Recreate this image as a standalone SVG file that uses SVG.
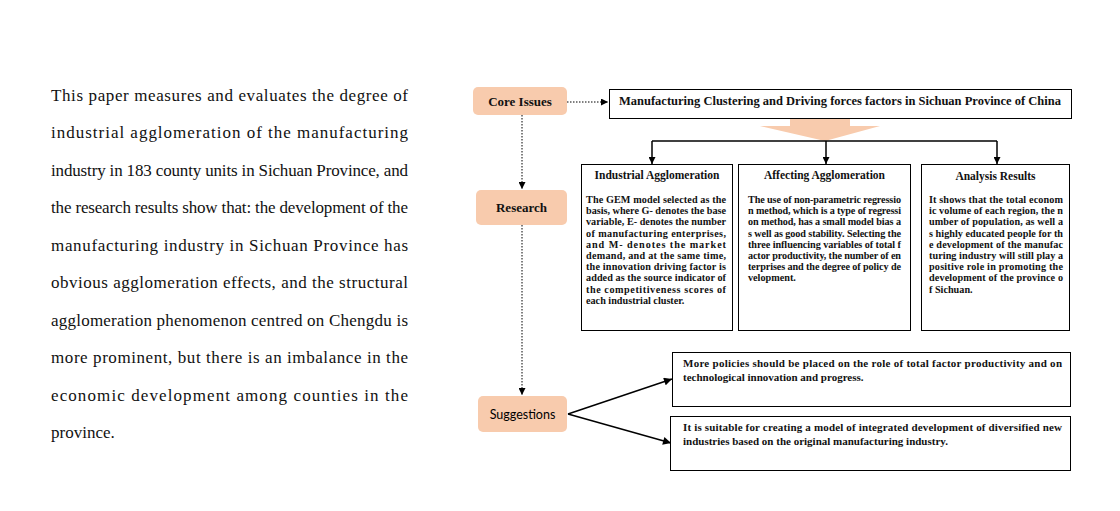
<svg xmlns="http://www.w3.org/2000/svg" width="1120" height="511" viewBox="0 0 1120 511">
<style>
.para{font-family:"Liberation Serif","Times New Roman",serif;font-size:17px;fill:#111}
.peach{fill:#f8cbad;stroke:none}
.lbl{font-family:"Liberation Serif","Times New Roman",serif;font-size:13px;font-weight:bold;fill:#111;text-anchor:middle}
.sug{font-family:Lato,"Liberation Sans",sans-serif;font-size:12.5px;fill:#000;text-anchor:middle}
.box{fill:#fff;stroke:#000;stroke-width:1}
.ttl{font-family:"Liberation Serif","Times New Roman",serif;font-size:11.5px;font-weight:bold;fill:#111}
.bt{font-family:"Liberation Serif","Times New Roman",serif;font-size:10.2px;font-weight:bold;fill:#111}
.bh{font-family:"Liberation Serif","Times New Roman",serif;font-size:11.5px;font-weight:bold;fill:#111;text-anchor:middle}
.st{font-family:"Liberation Serif","Times New Roman",serif;font-size:11px;font-weight:bold;fill:#111}
.dot{fill:none;stroke:#000;stroke-width:1;stroke-dasharray:1.5 1.5}
.sol{fill:none;stroke:#000;stroke-width:1.5}
</style>
<defs>
<marker id="ah" viewBox="0 0 10 10" refX="10" refY="5" markerWidth="7" markerHeight="7" markerUnits="userSpaceOnUse" orient="auto"><path d="M0,0 L10,5 L0,10 z" fill="#000"/></marker>
<marker id="ahs" viewBox="0 0 10 10" refX="10" refY="5" markerWidth="9" markerHeight="8" markerUnits="userSpaceOnUse" orient="auto"><path d="M0,0 L10,5 L0,10 z" fill="#000"/></marker>
</defs>
<rect width="1120" height="511" fill="#fff"/>

<g id="paragraph" class="para">
<text x="51" y="100.5" textLength="357" lengthAdjust="spacing">This paper measures and evaluates the degree of</text>
<text x="51" y="138" textLength="357" lengthAdjust="spacing">industrial agglomeration of the manufacturing</text>
<text x="51" y="175.5" textLength="357" lengthAdjust="spacing">industry in 183 county units in Sichuan Province, and</text>
<text x="51" y="213" textLength="357" lengthAdjust="spacing">the research results show that: the development of the</text>
<text x="51" y="250.5" textLength="357" lengthAdjust="spacing">manufacturing industry in Sichuan Province has</text>
<text x="51" y="288" textLength="357" lengthAdjust="spacing">obvious agglomeration effects, and the structural</text>
<text x="51" y="325.5" textLength="357" lengthAdjust="spacing">agglomeration phenomenon centred on Chengdu is</text>
<text x="51" y="363" textLength="357" lengthAdjust="spacing">more prominent, but there is an imbalance in the</text>
<text x="51" y="400.5" textLength="357" lengthAdjust="spacing">economic development among counties in the</text>
<text x="51" y="438">province.</text>
</g>

<g id="connectors">
<path class="dot" d="M567,102 L608,102" marker-end="url(#ah)"/>
<path class="dot" d="M522,115 L522,189" marker-end="url(#ah)"/>
<path class="dot" d="M522,225 L522,395" marker-end="url(#ah)"/>
<path class="peach" d="M790,118 L850,118 L850,126 L880,126 L825,141 L760,126 L790,126 z"/>
<path class="sol" d="M652,141 L997,141"/>
<path class="sol" d="M652,141 L652,164" marker-end="url(#ah)"/>
<path class="sol" d="M826,141 L826,164" marker-end="url(#ah)"/>
<path class="sol" d="M997,141 L997,164" marker-end="url(#ah)"/>
<path class="sol" d="M568,414 L672,379" marker-end="url(#ahs)"/>
<path class="sol" d="M568,414 L671,443" marker-end="url(#ahs)"/>
</g>

<g id="core-issues">
<rect class="peach" x="473" y="87" width="94" height="28" rx="5"/>
<text class="lbl" x="520" y="105.5">Core Issues</text>
</g>
<g id="research">
<rect class="peach" x="476" y="190" width="91" height="35" rx="5"/>
<text class="lbl" x="521.5" y="212">Research</text>
</g>
<g id="suggestions">
<rect class="peach" x="478" y="396" width="89" height="36" rx="5"/>
<text class="sug" x="522.5" y="418.5">Suggestions</text>
</g>

<g id="title">
<rect class="box" x="609.5" y="89.5" width="462" height="29"/>
<text class="ttl" x="619" y="105" textLength="442" lengthAdjust="spacingAndGlyphs">Manufacturing Clustering and Driving forces factors in Sichuan Province of China</text>
</g>

<g id="industrial-agglomeration">
<rect class="box" x="581.5" y="164.5" width="151" height="166"/>
<text class="bh" x="657" y="179">Industrial Agglomeration</text>
<g class="bt">
<text x="586" y="203" textLength="140" lengthAdjust="spacing">The GEM model selected as the</text>
<text x="586" y="214.2" textLength="140" lengthAdjust="spacing">basis, where G- denotes the base</text>
<text x="586" y="225.4" textLength="140" lengthAdjust="spacing">variable, E- denotes the number</text>
<text x="586" y="236.6" textLength="140" lengthAdjust="spacing">of manufacturing enterprises,</text>
<text x="586" y="247.8" textLength="140" lengthAdjust="spacing">and M- denotes the market</text>
<text x="586" y="259" textLength="140" lengthAdjust="spacing">demand, and at the same time,</text>
<text x="586" y="270.2" textLength="140" lengthAdjust="spacing">the innovation driving factor is</text>
<text x="586" y="281.4" textLength="140" lengthAdjust="spacing">added as the source indicator of</text>
<text x="586" y="292.6" textLength="140" lengthAdjust="spacing">the competitiveness scores of</text>
<text x="586" y="303.8">each industrial cluster.</text>
</g>
</g>

<g id="affecting-agglomeration">
<rect class="box" x="738.5" y="164.5" width="172" height="166"/>
<text class="bh" x="824.5" y="179">Affecting Agglomeration</text>
<g class="bt">
<text x="748" y="203" textLength="153" lengthAdjust="spacing">The use of non-parametric regressio</text>
<text x="748" y="214.2" textLength="153" lengthAdjust="spacing">n method, which is a type of regressi</text>
<text x="748" y="225.4" textLength="153" lengthAdjust="spacing">on method, has a small model bias a</text>
<text x="748" y="236.6" textLength="153" lengthAdjust="spacing">s well as good stability. Selecting the</text>
<text x="748" y="247.8" textLength="153" lengthAdjust="spacing">three influencing variables of total f</text>
<text x="748" y="259" textLength="153" lengthAdjust="spacing">actor productivity, the number of en</text>
<text x="748" y="270.2" textLength="153" lengthAdjust="spacing">terprises and the degree of policy de</text>
<text x="748" y="281.4">velopment.</text>
</g>
</g>

<g id="analysis-results">
<rect class="box" x="921.5" y="164.5" width="148" height="166"/>
<text class="bh" x="995.5" y="180" font-weight="normal">Analysis Results</text>
<g class="bt">
<text x="929" y="203" textLength="134" lengthAdjust="spacing">It shows that the total econom</text>
<text x="929" y="214.2" textLength="134" lengthAdjust="spacing">ic volume of each region, the n</text>
<text x="929" y="225.4" textLength="134" lengthAdjust="spacing">umber of population, as well a</text>
<text x="929" y="236.6" textLength="134" lengthAdjust="spacing">s highly educated people for th</text>
<text x="929" y="247.8" textLength="134" lengthAdjust="spacing">e development of the manufac</text>
<text x="929" y="259" textLength="134" lengthAdjust="spacing">turing industry will still play a</text>
<text x="929" y="270.2" textLength="134" lengthAdjust="spacing">positive role in promoting the</text>
<text x="929" y="281.4" textLength="134" lengthAdjust="spacing">development of the province o</text>
<text x="929" y="292.6">f Sichuan.</text>
</g>
</g>

<g id="suggestion-1">
<rect class="box" x="672.5" y="352.5" width="398" height="54"/>
<text class="st" x="683" y="367" textLength="379" lengthAdjust="spacing">More policies should be placed on the role of total factor productivity and on</text>
<text class="st" x="683" y="380.5">technological innovation and progress.</text>
</g>
<g id="suggestion-2">
<rect class="box" x="670.5" y="416.5" width="400" height="54"/>
<text class="st" x="683" y="431" textLength="379" lengthAdjust="spacing">It is suitable for creating a model of integrated development of diversified new</text>
<text class="st" x="683" y="444.5">industries based on the original manufacturing industry.</text>
</g>
</svg>
